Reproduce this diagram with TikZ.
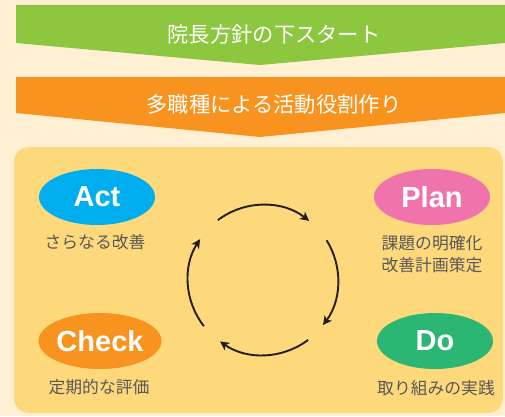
\documentclass[tikz,border=0pt]{standalone}
\usepackage{fontspec}
\setsansfont{Liberation Sans}
\newfontfamily\jpfont{Noto Sans CJK JP}
\usetikzlibrary{arrows.meta,shapes.geometric}
\definecolor{cream}{HTML}{FFEFD3}
\definecolor{panelyellow}{HTML}{FED97C}
\definecolor{bannergreen}{HTML}{8DC63F}
\definecolor{bannerorange}{HTML}{F7931E}
\definecolor{actblue}{HTML}{00AEEF}
\definecolor{planpink}{HTML}{F074AC}
\definecolor{dogreen}{HTML}{2BB673}
\definecolor{labelgray}{HTML}{595757}
\definecolor{arrowblack}{HTML}{231F20}

\begin{document}
\begin{tikzpicture}
  [x=1pt,y=1pt,
  banner/.style={font=\jpfont\fontsize{21.3}{21}\selectfont,text=white},
  phase/.style={ellipse,minimum width=116,minimum height=56,inner sep=0pt,
    text=white,font=\sffamily\bfseries\fontsize{29}{29}\selectfont},
  note/.style={font=\jpfont\fontsize{16.8}{22}\selectfont,text=labelgray,align=center},
  cycarrow/.style={arrowblack,line width=1.9pt,-{Stealth[length=9pt,width=9pt,inset=2.5pt]}}]

  \fill[cream] (0,0) rectangle (505,416);
  \useasboundingbox (0,0) rectangle (505,416);

  % banners
  \fill[bannergreen] (16,411) -- (505,411) -- (505,373) -- (260,351) -- (16,373) -- cycle;
  \node[banner] (start) at (274,382) {院長方針の下スタート};

  \fill[bannerorange] (16,339) -- (505,339) -- (505,303) -- (260,279) -- (16,303) -- cycle;
  \node[banner] (roles) at (274,312) {多職種による活動役割作り};

  % PDCA panel
  \fill[panelyellow,rounded corners=15] (14,3) rectangle (503,269);

  \node[phase,fill=actblue] (act) at (97,219) {Act};
  \node[note] (actnote) at (95,174) {さらなる改善};

  \node[phase,fill=planpink] (plan) at (432,219) {Plan};
  \node[note] (plannote) at (432,162) {課題の明確化\\改善計画策定};

  \node[phase,fill=bannerorange] (check) at (100,75) {Check};
  \node[note] (checknote) at (99,29) {定期的な評価};

  \node[phase,fill=dogreen] (do) at (435,75) {Do};
  \node[note] (donote) at (436,28) {取り組みの実践};

  % cycle
  \coordinate (cyc) at (263,136);
  \draw[cycarrow] ([shift={(127:75)}]cyc) arc[start angle=127,end angle=52,radius=75];
  \draw[cycarrow] ([shift={(32:75)}]cyc) arc[start angle=32,end angle=-37,radius=75];
  \draw[cycarrow] ([shift={(-53:75)}]cyc) arc[start angle=-53,end angle=-125,radius=75];
  \draw[cycarrow] ([shift={(-142:75)}]cyc) arc[start angle=-142,end angle=-213,radius=75];

\end{tikzpicture}
\end{document}
